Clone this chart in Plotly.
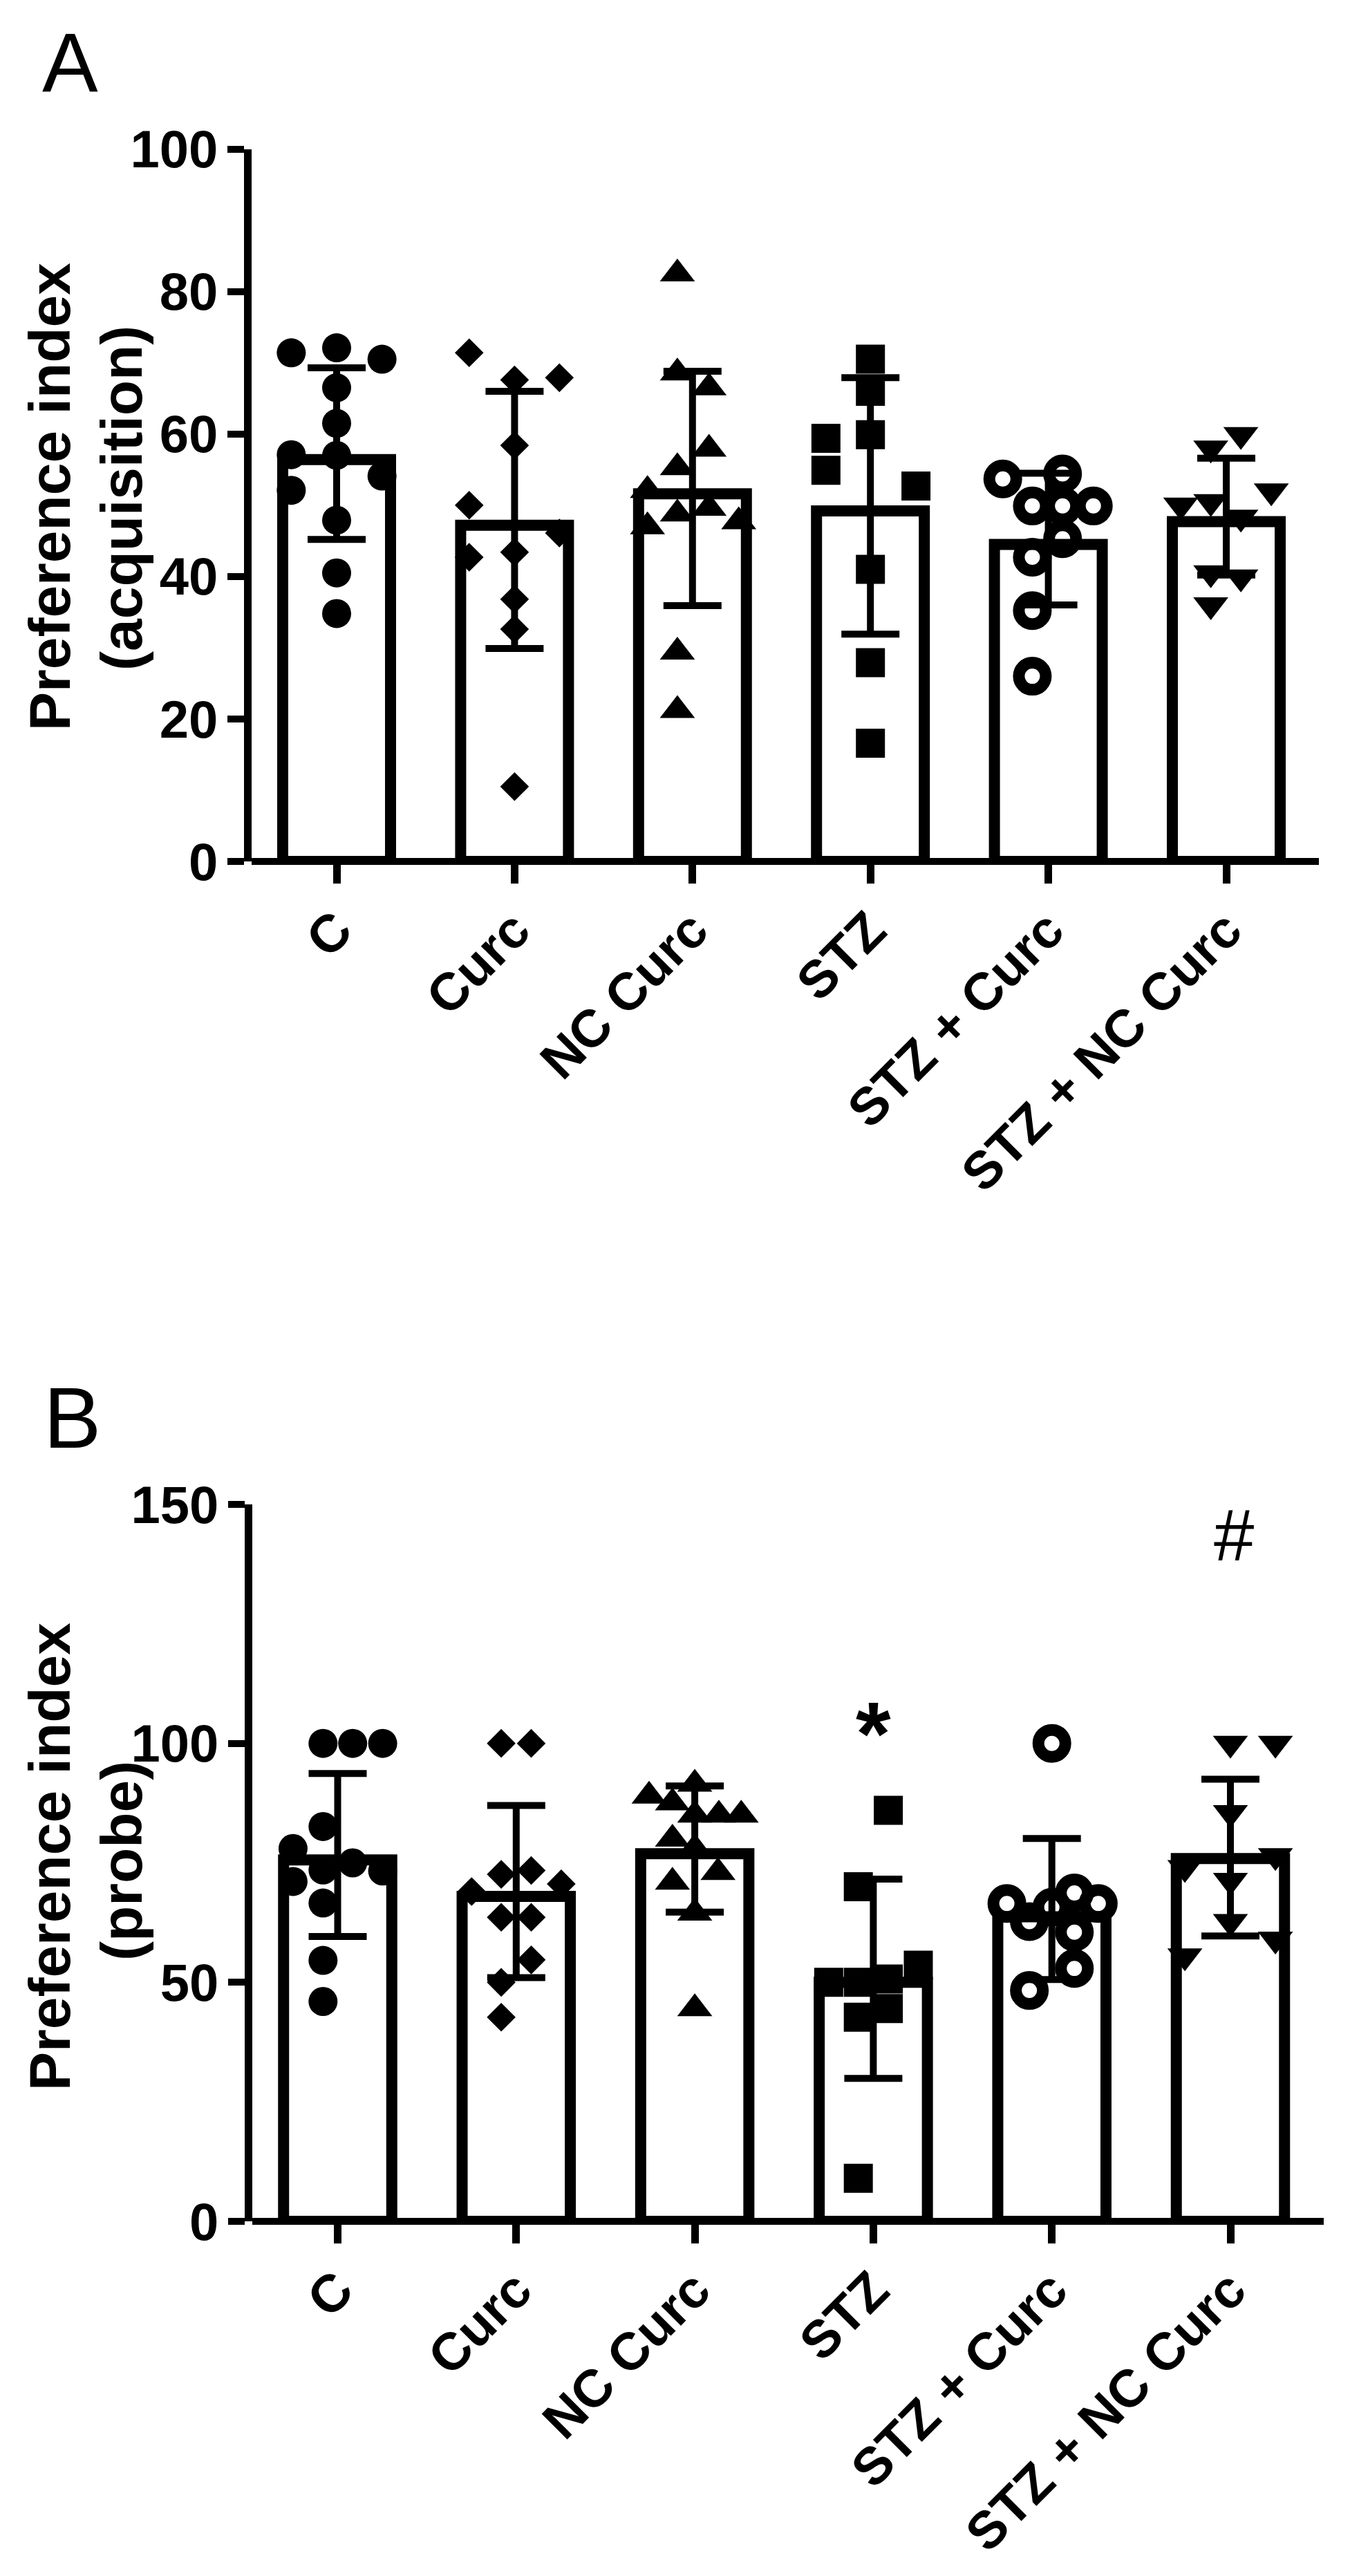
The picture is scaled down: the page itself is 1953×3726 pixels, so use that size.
import plotly.graph_objects as go

W, H = 1953, 3726
MARGEM = 8  # margem do body da pagina

grupos = ['C', 'Curc', 'NC Curc', 'STZ', 'STZ + Curc', 'STZ + NC Curc']
simbolos = ['circle', 'diamond', 'triangle-up', 'square', 'circle-open', 'triangle-down']
tamanhos = [42, 32, 44, 42, 39, 44]

# painel A - acquisition
a_barras = [56.4, 47.2, 51.6, 49.2, 44.5, 47.7]
a_erro_sup = [69.3, 66.0, 68.8, 67.9, 54.5, 56.6]
a_erro_inf = [45.2, 29.9, 35.9, 31.9, 36.0, 40.2]

a_c_x = [-.255, 0, .255, 0, 0, 0, -.255, .255, -.255, 0, 0, 0]
a_c_y = [71.4, 72.1, 70.5, 66.5, 61.5, 57.0, 57.1, 54.1, 52.1, 47.9, 40.5, 34.8]
a_curc_x = [-.255, 0, .252, 0, -.255, .252, 0, -.255, 0, 0, 0]
a_curc_y = [71.4, 67.6, 67.9, 58.4, 50.0, 46.1, 43.4, 42.7, 36.8, 32.6, 10.5]
a_nc_x = [-.085, -.085, .093, .093, -.085, -.253, .093, -.085, .26, -.253, -.085, -.085]
a_nc_y = [82.5, 68.6, 66.5, 57.9, 55.3, 52.1, 49.6, 48.8, 47.7, 47.0, 29.4, 21.2]
a_stz_x = [0, 0, 0, -.25, -.25, .256, 0, 0, 0]
a_stz_y = [70.5, 66.0, 59.9, 59.4, 54.9, 52.7, 41.0, 27.9, 16.6]
a_sc_x = [-.256, .08, -.09, .08, .253, .08, -.09, -.09, -.09]
a_sc_y = [53.7, 54.4, 49.9, 49.9, 49.9, 45.3, 42.7, 35.2, 26.0]
a_snc_x = [.082, -.087, .253, -.256, -.087, .082, -.087, .082, -.087]
a_snc_y = [59.9, 58.0, 52.0, 50.0, 50.5, 48.3, 40.5, 39.9, 36.0]

# painel B - probe
b_barras = [75.6, 68.0, 76.9, 50.0, 63.7, 75.9]
b_erro_sup = [93.7, 87.0, 91.1, 71.6, 80.1, 92.5]
b_erro_inf = [59.6, 51.0, 64.7, 29.9, 50.6, 59.7]

b_c_x = [-.082, .084, .252, -.082, -.25, .084, -.082, -.25, .252, -.082, -.082, -.082]
b_c_y = [100, 100, 100, 82.6, 78.0, 75.0, 73.5, 71.1, 73.3, 66.6, 54.6, 46.0]
b_curc_x = [-.084, .084, -.084, .084, .252, -.25, -.084, .084, .084, -.084, -.084]
b_curc_y = [100, 100, 72.6, 73.4, 70.6, 69.0, 63.6, 63.6, 54.7, 50.0, 42.7]
b_nc_x = [-.256, 0, -.125, 0, .135, .26, -.125, 0, -.125, .13, 0, 0]
b_nc_y = [89.0, 91.5, 87.6, 85.0, 85.0, 85.0, 80.0, 78.0, 71.0, 73.0, 64.5, 44.5]
b_stz_x = [.084, -.084, .252, -.084, .084, -.25, -.084, .084, -.084]
b_stz_y = [86.0, 70.0, 53.6, 50.0, 50.7, 50.0, 42.7, 44.5, 9.0]
b_sc_x = [0, -.252, 0, .126, .26, -.126, .126, .126, -.126]
b_sc_y = [100, 66.5, 65.7, 68.7, 66.5, 62.7, 60.5, 52.9, 48.3]
b_snc_x = [0, .252, 0, .252, -.255, 0, 0, .252, -.255]
b_snc_y = [100, 100, 85.5, 76.5, 74.0, 71.3, 62.7, 59.0, 55.5]

a_pontos = [(a_c_x, a_c_y), (a_curc_x, a_curc_y), (a_nc_x, a_nc_y),
            (a_stz_x, a_stz_y), (a_sc_x, a_sc_y), (a_snc_x, a_snc_y)]
b_pontos = [(b_c_x, b_c_y), (b_curc_x, b_curc_y), (b_nc_x, b_nc_y),
            (b_stz_x, b_stz_y), (b_sc_x, b_sc_y), (b_snc_x, b_snc_y)]

fig = go.Figure()


def px(x):
    return (x - MARGEM) / W


def py(y):
    return 1 - (y - MARGEM) / H


def painel(eixo_x, eixo_y, barras, sup, inf, pontos):
    # barra branca com contorno preto e o desvio
    fig.add_trace(go.Bar(x=list(range(6)), y=barras, xaxis=eixo_x, yaxis=eixo_y,
                         width=0.606, showlegend=False,
                         marker=dict(color='white', line=dict(color='black', width=16)),
                         error_y=dict(type='data', symmetric=False,
                                      array=[s - b for s, b in zip(sup, barras)],
                                      arrayminus=[b - i for b, i in zip(barras, inf)],
                                      color='black', thickness=10, width=42)))
    # pontos individuais de cada grupo
    for i, (dx, vals) in enumerate(pontos):
        fig.add_trace(go.Scatter(x=[i + d for d in dx], y=vals, mode='markers',
                                 xaxis=eixo_x, yaxis=eixo_y, showlegend=False,
                                 marker=dict(symbol=simbolos[i], size=tamanhos[i], color='black',
                                             line=dict(color='black',
                                                       width=17 if simbolos[i] == 'circle-open' else 0))))


painel('x', 'y', a_barras, a_erro_sup, a_erro_inf, a_pontos)
painel('x2', 'y2', b_barras, b_erro_sup, b_erro_inf, b_pontos)

fonte_tick = dict(family='Liberation Sans', size=76, color='black', weight=700)
eixo_x_comum = dict(tickmode='array', tickvals=list(range(6)), ticktext=grupos, tickangle=-45,
                    tickfont=fonte_tick, ticks='outside', ticklen=31, tickwidth=11, automargin=False,
                    ticklabelstandoff=-8,
                    tickcolor='black', showgrid=False, zeroline=False, showline=False)
eixo_y_comum = dict(tickfont=fonte_tick, ticks='outside', ticklen=24, tickwidth=10, tickcolor='black',
                    ticklabelstandoff=-2,
                    showgrid=False, zeroline=True, zerolinecolor='black', zerolinewidth=10, automargin=False,
                    showline=True, linecolor='black', linewidth=11)

fig.update_layout(
    width=W, height=H, margin=dict(l=0, r=0, t=0, b=0),
    paper_bgcolor='white', plot_bgcolor='white',
    xaxis=dict(domain=[px(363.5), px(1908)], range=[(363.5 - 487) / 257.4, (1908 - 487) / 257.4],
               anchor='y', **eixo_x_comum),
    yaxis=dict(domain=[py(1246), py(215.6)], range=[0, 100], tickvals=[0, 20, 40, 60, 80, 100],
               anchor='x', **eixo_y_comum),
    xaxis2=dict(domain=[px(364.5), px(1915)], range=[(364.5 - 488.5) / 258.3, (1915 - 488.5) / 258.3],
                anchor='y2', **eixo_x_comum),
    yaxis2=dict(domain=[py(3213), py(2176)], range=[0, 150], tickvals=[0, 50, 100, 150],
                anchor='x2', **eixo_y_comum),
)


def texto(t, x, y, tam, peso=400, angulo=0):
    fig.add_annotation(text=t, x=px(x), y=py(y), xref='paper', yref='paper', showarrow=False,
                       textangle=angulo, xanchor='center', yanchor='middle',
                       font=dict(family='Liberation Sans', size=tam, color='black', weight=peso))


# letras dos paineis e titulos do eixo y
texto('A', 101, 90, 121)
texto('B', 104, 2050, 125)
texto('Preference index', 72, 719, 84, 700, -90)
texto('(acquisition)', 176, 721, 84, 700, -90)
texto('Preference index', 72, 2686, 84, 700, -90)
texto('(probe)', 176, 2692, 84, 700, -90)

# marcas de significancia no painel B
fig.add_annotation(text='*', x=3, y=102, xref='x2', yref='y2', showarrow=False,
                   font=dict(family='Liberation Sans', size=130, color='black', weight=700))
fig.add_annotation(text='#', x=5.02, y=143.6, xref='x2', yref='y2', showarrow=False,
                   font=dict(family='Liberation Sans', size=105, color='black', weight=500))

fig.write_html("out.html")
